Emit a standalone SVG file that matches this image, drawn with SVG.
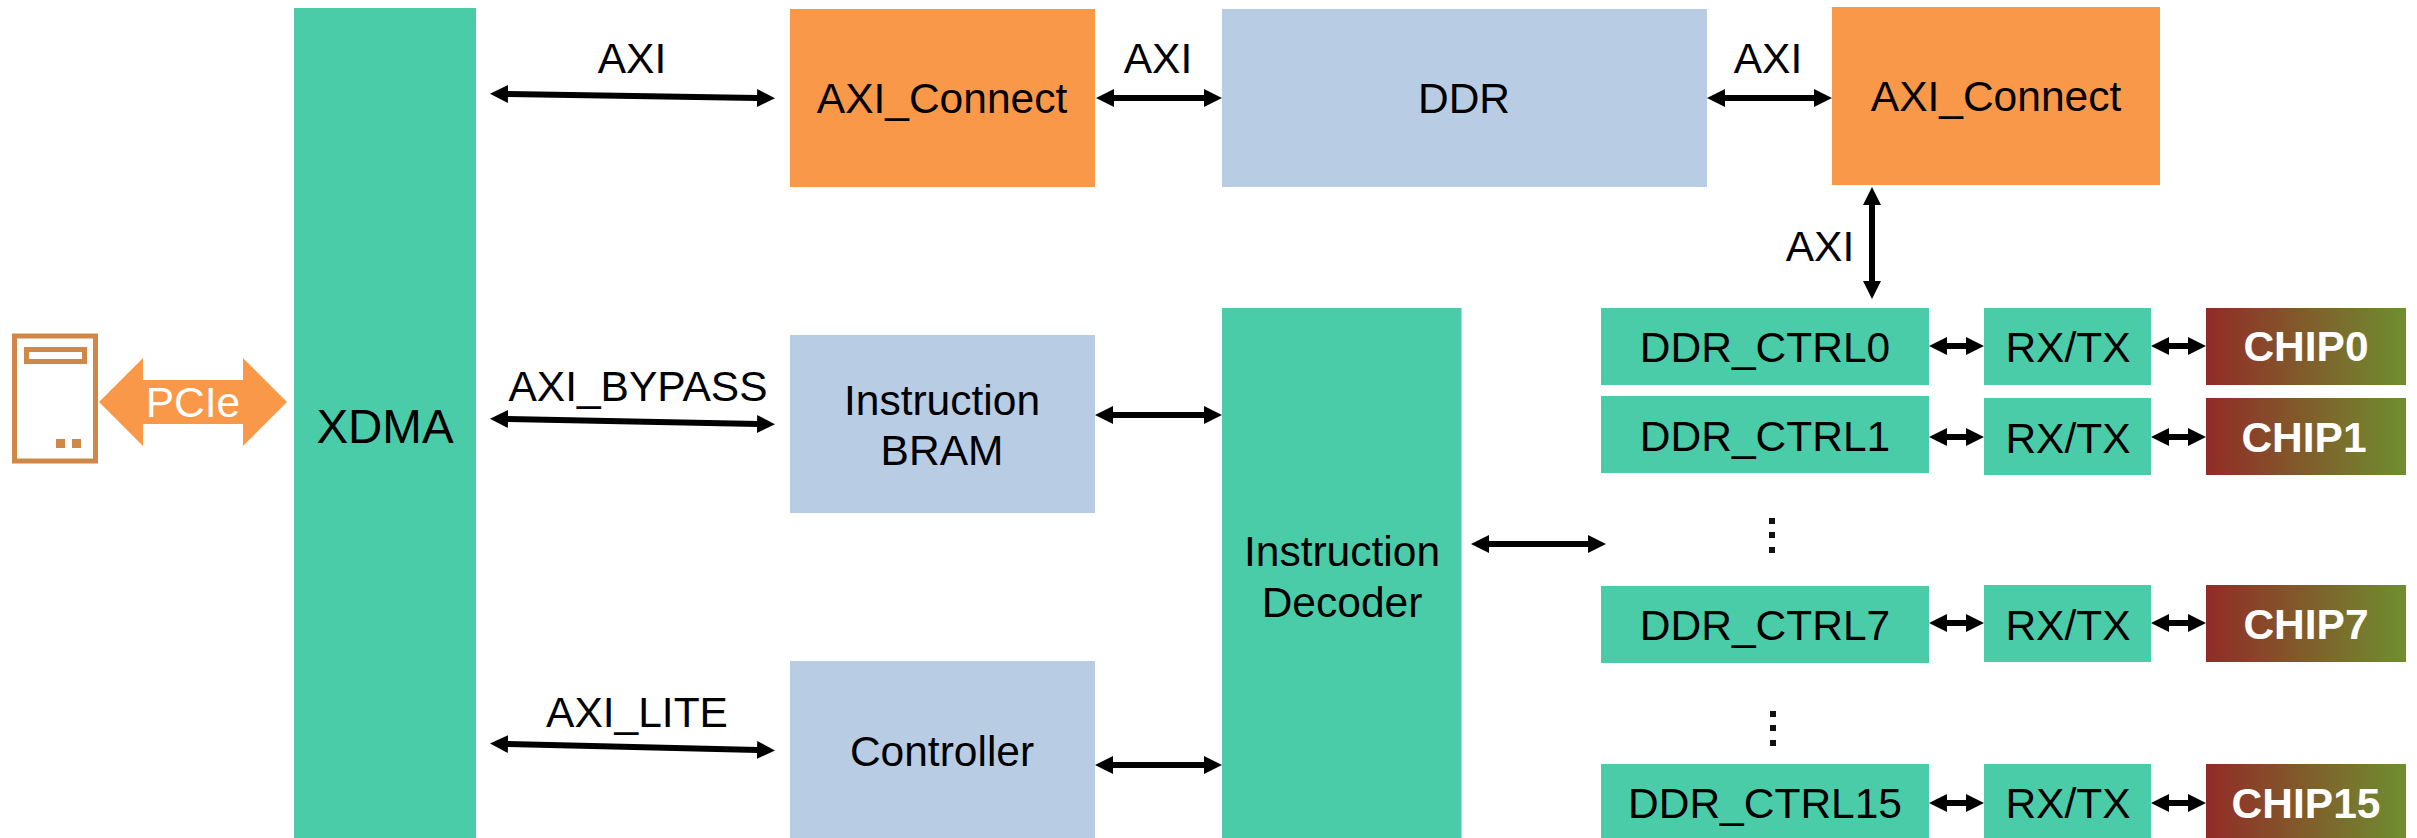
<svg xmlns="http://www.w3.org/2000/svg" width="2417" height="838" viewBox="0 0 2417 838">
<style>
text{font-family:"Liberation Sans",Arial,sans-serif;font-size:42.500px;fill:#000;text-anchor:middle}
.g{fill:#4BCCA9}.o{fill:#F89848}.b{fill:#B8CCE4}.c{fill:url(#chip)}
.chip{font-weight:bold;fill:#fff}
.a{stroke:#000;stroke-width:6;fill:none;marker-start:url(#ah);marker-end:url(#ah)}
.ic{fill:none;stroke:#D08848;stroke-width:5}
.d{fill:#111}
</style>
<defs>
<linearGradient id="chip" x1="0" y1="0" x2="1" y2="0"><stop offset="0" stop-color="#922B27"/><stop offset="1" stop-color="#6E8F2F"/></linearGradient>
<marker id="ah" markerUnits="userSpaceOnUse" markerWidth="20" markerHeight="20" viewBox="0 -10 20 20" refX="1" refY="0" orient="auto-start-reverse"><path d="M0 -9L18 0L0 9Z" fill="#000"/></marker>
</defs>
<g id="connectors">
<line class="a" x1="507" y1="94" x2="758" y2="98"/>
<line class="a" x1="1113" y1="98" x2="1205" y2="98"/>
<line class="a" x1="1724" y1="98" x2="1815" y2="98"/>
<line class="a" x1="1872" y1="204" x2="1872" y2="282"/>
<line class="a" x1="507" y1="419" x2="758" y2="424"/>
<line class="a" x1="507" y1="744" x2="758" y2="750"/>
<line class="a" x1="1112" y1="415" x2="1205" y2="415"/>
<line class="a" x1="1112" y1="765" x2="1205" y2="765"/>
<line class="a" x1="1488" y1="544" x2="1589" y2="544"/>
<line class="a" x1="1946" y1="346" x2="1967" y2="346"/>
<line class="a" x1="2168" y1="346" x2="2189" y2="346"/>
<line class="a" x1="1946" y1="437" x2="1967" y2="437"/>
<line class="a" x1="2168" y1="437" x2="2189" y2="437"/>
<line class="a" x1="1946" y1="623" x2="1967" y2="623"/>
<line class="a" x1="2168" y1="623" x2="2189" y2="623"/>
<line class="a" x1="1946" y1="803" x2="1967" y2="803"/>
<line class="a" x1="2168" y1="803" x2="2189" y2="803"/>
</g>
<g id="labels">
<text x="632" y="73">AXI</text>
<text x="1158" y="73">AXI</text>
<text x="1768" y="73">AXI</text>
<text x="1820" y="261">AXI</text>
<text x="638" y="401">AXI_BYPASS</text>
<text x="637" y="727">AXI_LITE</text>
</g>
<g id="host">
<rect class="ic" x="14.500" y="336" width="81" height="125"/>
<rect class="ic" x="26.500" y="349.500" width="58" height="12"/>
<rect x="56" y="439" width="9" height="9" fill="#D08848"/>
<rect x="72" y="439" width="9" height="9" fill="#D08848"/>
</g>
<g id="pcie">
<path class="o" d="M99 402L143 358V380H243V358L287 402L243 446V424H143V446Z"/>
<text x="193" y="417" style="fill:#fff">PCIe</text>
</g>
<g id="xdma"><rect class="g" x="294" y="8" width="182" height="830"/><text x="385" y="443" style="font-size:47.500px">XDMA</text></g>
<g id="axi-connect-1"><rect class="o" x="790" y="9" width="305" height="178"/><text x="942" y="113">AXI_Connect</text></g>
<g id="ddr"><rect class="b" x="1222" y="9" width="485" height="178"/><text x="1464" y="113">DDR</text></g>
<g id="axi-connect-2"><rect class="o" x="1832" y="7" width="328" height="178"/><text x="1996" y="111">AXI_Connect</text></g>
<g id="instruction-bram"><rect class="b" x="790" y="335" width="305" height="178"/><text x="942" y="414.500">Instruction</text><text x="942" y="465">BRAM</text></g>
<g id="controller"><rect class="b" x="790" y="661" width="305" height="177"/><text x="942" y="765.500">Controller</text></g>
<g id="instruction-decoder"><rect class="g" x="1222" y="308" width="239.500" height="530"/><text x="1342" y="565.500">Instruction</text><text x="1342" y="616.500">Decoder</text></g>
<g id="ddr-ctrl0"><rect class="g" x="1601" y="308" width="328" height="77"/><text x="1765" y="362">DDR_CTRL0</text></g>
<g id="rxtx0"><rect class="g" x="1984" y="308" width="167" height="77"/><text x="2068" y="362">RX/TX</text></g>
<g id="chip0"><rect class="c" x="2206" y="308" width="200" height="77"/><text class="chip" x="2306" y="361">CHIP0</text></g>
<g id="ddr-ctrl1"><rect class="g" x="1601" y="396" width="328" height="77"/><text x="1765" y="451">DDR_CTRL1</text></g>
<g id="rxtx1"><rect class="g" x="1984" y="398" width="167" height="77"/><text x="2068" y="453">RX/TX</text></g>
<g id="chip1"><rect class="c" x="2206" y="398" width="200" height="77"/><text class="chip" x="2304" y="452">CHIP1</text></g>
<g id="ellipsis-1"><rect class="d" x="1769" y="518" width="6" height="6"/><rect class="d" x="1769" y="532" width="6" height="6"/><rect class="d" x="1769" y="547" width="6" height="6"/></g>
<g id="ddr-ctrl7"><rect class="g" x="1601" y="586" width="328" height="77"/><text x="1765" y="640">DDR_CTRL7</text></g>
<g id="rxtx7"><rect class="g" x="1984" y="585" width="167" height="77"/><text x="2068" y="639.500">RX/TX</text></g>
<g id="chip7"><rect class="c" x="2206" y="585" width="200" height="77"/><text class="chip" x="2306" y="639">CHIP7</text></g>
<g id="ellipsis-2"><rect class="d" x="1770" y="711" width="6" height="6"/><rect class="d" x="1770" y="725" width="6" height="6"/><rect class="d" x="1770" y="740" width="6" height="6"/></g>
<g id="ddr-ctrl15"><rect class="g" x="1601" y="764" width="328" height="74"/><text x="1765" y="818">DDR_CTRL15</text></g>
<g id="rxtx15"><rect class="g" x="1984" y="764" width="167" height="74"/><text x="2068" y="818">RX/TX</text></g>
<g id="chip15"><rect class="c" x="2206" y="764" width="200" height="74"/><text class="chip" x="2306" y="818">CHIP15</text></g>
</svg>
